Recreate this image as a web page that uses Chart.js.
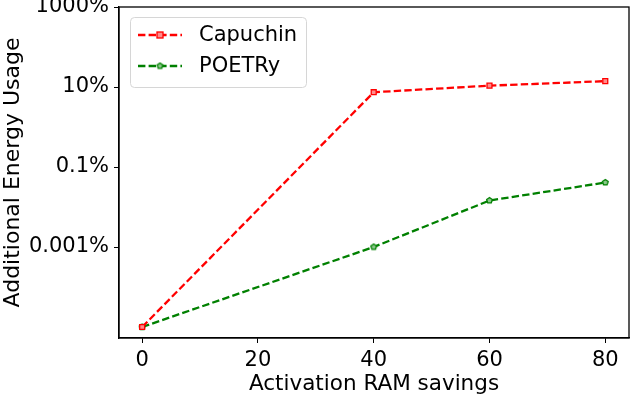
<!DOCTYPE html>
<html><head><meta charset="utf-8">
<script src="https://cdn.jsdelivr.net/npm/chart.js@4/dist/chart.umd.min.js"></script>
<style>html,body{margin:0;padding:0;background:#fff}#wrap{width:630px;height:398px}</style>
</head><body><div id="wrap"><canvas id="c" width="630" height="398"></canvas></div>
<script>
const xValues = [0, 40, 60, 80];
const capuchin = [0.00001, 7.4, 10.8, 14];
const poetry = [0.00001, 0.001, 0.0145, 0.041];
const yTicks = [0.001, 0.1, 10, 1000];
const yTickLabels = ['0.001%', '0.1%', '10%', '1000%'];
const xTicks = [0, 20, 40, 60, 80];
const seriesNames = ['Capuchin', 'POETRy'];

const FONT = 'DejaVu Sans';
const DASH = [7.4, 3.2];
const LW = 2.3;

function pentagon(color, r) {
  const c = document.createElement('canvas');
  const s = Math.ceil(r * 2 + 3);
  c.width = s; c.height = s;
  const g = c.getContext('2d');
  g.beginPath();
  for (let i = 0; i < 5; i++) {
    const a = -Math.PI / 2 + i * 2 * Math.PI / 5;
    const px = s / 2 + r * Math.cos(a), py = s / 2 + r * Math.sin(a);
    if (i === 0) g.moveTo(px, py); else g.lineTo(px, py);
  }
  g.closePath();
  g.fillStyle = 'rgba(140,200,140,1)';
  g.fill();
  g.lineWidth = 1.3;
  g.strokeStyle = color;
  g.stroke();
  return c;
}
const pent = pentagon('green', 3);

const boxPlugin = {
  id: 'box',
  afterDraw(chart) {
    const a = chart.chartArea, ctx = chart.ctx;
    ctx.save();
    ctx.strokeStyle = '#000';
    ctx.lineWidth = 1.3;
    ctx.strokeRect(a.left, a.top, a.right - a.left, a.bottom - a.top);
    // legend
    const lx = 130.5, ly = 17.5, lw = 176, lh = 70, r = 4;
    ctx.beginPath();
    ctx.moveTo(lx + r, ly);
    ctx.arcTo(lx + lw, ly, lx + lw, ly + lh, r);
    ctx.arcTo(lx + lw, ly + lh, lx, ly + lh, r);
    ctx.arcTo(lx, ly + lh, lx, ly, r);
    ctx.arcTo(lx, ly, lx + lw, ly, r);
    ctx.closePath();
    ctx.fillStyle = 'rgba(255,255,255,0.8)';
    ctx.fill();
    ctx.strokeStyle = '#d6d6d6';
    ctx.lineWidth = 1;
    ctx.stroke();
    const entries = [
      { name: seriesNames[0], color: 'red', y: 35, marker: 'sq' },
      { name: seriesNames[1], color: 'green', y: 66, marker: 'pent' }
    ];
    entries.forEach(e => {
      ctx.strokeStyle = e.color;
      ctx.lineWidth = LW;
      ctx.setLineDash(DASH);
      ctx.beginPath();
      ctx.moveTo(138, e.y); ctx.lineTo(182, e.y);
      ctx.stroke();
      ctx.setLineDash([]);
      if (e.marker === 'sq') {
        ctx.fillStyle = 'rgba(255,140,140,1)';
        ctx.fillRect(157, e.y - 3, 6, 6);
        ctx.strokeStyle = 'red'; ctx.lineWidth = 1.3;
        ctx.strokeRect(157, e.y - 3, 6, 6);
      } else {
        ctx.drawImage(pent, 160 - pent.width / 2, e.y - pent.height / 2);
      }
      ctx.fillStyle = '#000';
      ctx.font = '21px "' + FONT + '"';
      ctx.textBaseline = 'middle';
      ctx.textAlign = 'left';
      ctx.fillText(e.name, 199, e.y + 1);
    });
    ctx.restore();
  }
};

new Chart(document.getElementById('c'), {
  type: 'line',
  data: {
    datasets: [
      {
        label: seriesNames[0],
        data: xValues.map((x, i) => ({ x, y: capuchin[i] })),
        borderColor: 'red', borderWidth: LW, borderDash: DASH,
        pointStyle: 'rect', pointRadius: 3.5, pointBorderWidth: 1.3,
        pointBackgroundColor: 'rgba(255,140,140,1)', pointBorderColor: 'red',
        tension: 0, fill: false
      },
      {
        label: seriesNames[1],
        data: xValues.map((x, i) => ({ x, y: poetry[i] })),
        borderColor: 'green', borderWidth: LW, borderDash: DASH,
        pointStyle: pent, pointRadius: 3,
        tension: 0, fill: false
      }
    ]
  },
  options: {
    responsive: false,
    animation: false,
    devicePixelRatio: 1,
    layout: { autoPadding: false, padding: { left: 0, right: 1, top: 7, bottom: 0 } },
    plugins: { legend: { display: false }, tooltip: { enabled: false } },
    scales: {
      x: {
        type: 'linear',
        min: -4,
        max: 84.1,
        afterBuildTicks(s) { s.ticks = xTicks.map(v => ({ value: v })); },
        afterFit(s) { s.height = 60; s.paddingLeft = 0; s.paddingRight = 0; },
        grid: { drawOnChartArea: false, drawTicks: true, tickLength: 5, color: '#000', lineWidth: 1 },
        border: { display: true, color: '#000', width: 1.3 },
        ticks: { color: '#000', font: { family: FONT, size: 21 }, padding: 5, maxRotation: 0 },
        title: { display: true, text: 'Activation RAM savings', color: '#000', font: { family: FONT, size: 21.5 }, padding: { top: 0, bottom: 1 } }
      },
      y: {
        type: 'logarithmic',
        min: Math.pow(10, -5.275),
        max: 1000,
        afterBuildTicks(s) { s.ticks = yTicks.map(v => ({ value: v })); },
        afterFit(s) { s.width = 119; s.paddingTop = 0; s.paddingBottom = 0; },
        grid: { drawOnChartArea: false, drawTicks: true, tickLength: 5, color: '#000', lineWidth: 1 },
        border: { display: true, color: '#000', width: 1.3 },
        ticks: {
          color: '#000', font: { family: FONT, size: 21 }, padding: 5,
          callback(v) { const i = yTicks.indexOf(v); return i >= 0 ? yTickLabels[i] : ''; }
        },
        title: { display: true, text: 'Additional Energy Usage', color: '#000', font: { family: FONT, size: 22 }, padding: { top: 0, bottom: 0 } }
      }
    }
  },
  plugins: [boxPlugin]
});
</script>
</body></html>
